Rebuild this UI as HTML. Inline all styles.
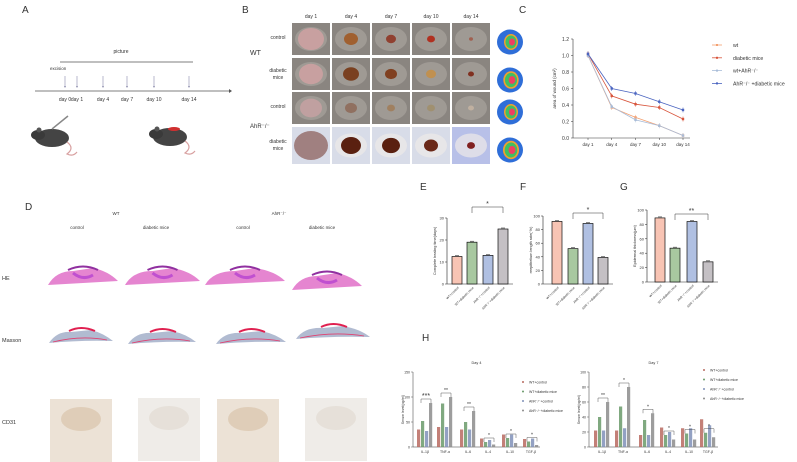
<!DOCTYPE html>
<html><head><meta charset="utf-8">
<style>
body{margin:0;background:#fff;font-family:"Liberation Sans",sans-serif;}
#root{position:relative;width:797px;height:462px;overflow:hidden;background:#fff;}
.t{position:absolute;white-space:nowrap;color:#333;}
.L{position:absolute;font-size:10px;color:#222;}
.ph{position:absolute;width:38px;height:32px;}
</style></head>
<body>
<div id="root">
<svg id="svg" width="797" height="462" style="position:absolute;left:0;top:0"></svg>
</div>
<script>
// ===== Data =====
const cDays=["day 1","day 4","day 7","day 10","day 14"];
const cYTicks=[0,0.2,0.4,0.6,0.8,1.0,1.2];
const cSeriesNames=["wt","diabetic mice","wt+AhR\u207b/\u207b","AhR\u207b/\u207b +diabetic mice"];
const cWt=[1.0,0.37,0.25,0.15,0.03];
const cDiab=[1.02,0.51,0.41,0.37,0.23];
const cWtAhr=[1.0,0.38,0.22,0.15,0.03];
const cAhrDiab=[1.02,0.60,0.54,0.44,0.34];
const barGroups=["WT+control","WT+diabetic mice","AhR\u207b/\u207b+control","AhR\u207b/\u207b+diabetic mice"];
const eValues=[12.5,19,13,25];
const eTicks=[0,10,20,30];
const fValues=[92,52,89,39];
const fTicks=[0,20,40,60,80,100];
const gValues=[89,47,84,28];
const gTicks=[0,20,40,60,80,100];
const hCytokines=["IL-1\u03b2","TNF-\u03b1","IL-6","IL-4","IL-10","TGF-\u03b2"];
const hDay4WtCtrl=[35,40,35,17,25,16];
const hDay4WtDiab=[52,87,50,10,18,11];
const hDay4AhrCtrl=[32,40,35,14,25,17];
const hDay4AhrDiab=[88,100,72,5,8,4];
const hDay4Ticks=[0,50,100,150];
const hDay4Stars=["***","**","**","*","*","*"];
const hDay7WtCtrl=[22,22,16,26,25,37];
const hDay7WtDiab=[40,54,36,16,18,19];
const hDay7AhrCtrl=[22,25,16,20,25,29];
const hDay7AhrDiab=[60,80,45,10,10,13];
const hDay7Ticks=[0,20,40,60,80,100];
const hDay7Stars=["**","*","*","*","*","*"];

const NS="http://www.w3.org/2000/svg";
const svg=document.getElementById('svg');
const root=document.getElementById('root');
function mk(tag,attrs,parent){const e=document.createElementNS(NS,tag);for(const k in attrs)e.setAttribute(k,attrs[k]);(parent||svg).appendChild(e);return e;}
function txt(x,y,s,size,anchor,parent,fill){const e=mk('text',{x:x,y:y,'font-size':size,'text-anchor':anchor||'start',fill:fill||'#333','font-family':'Liberation Sans, sans-serif'},parent);e.textContent=s;return e;}
function label(x,y,s,size,name){const d=document.createElement('div');d.className='t';d.style.left=x+'px';d.style.top=y+'px';d.style.fontSize=size+'px';d.textContent=s;


root.appendChild(d);return d;}

// Panel letters
[["A",22,5],["B",242,5],["C",519,5],["D",25,202],["E",420,182],["F",520,182],["G",620,182],["H",422,333]].forEach(p=>{
 const d=label(p[1],p[2],p[0],10,'panel-label-'+p[0].toLowerCase());
});

// ===== Panel A =====
(function(){
 const g=mk('g',{});
 
 
 mk('line',{x1:35,y1:91,x2:229,y2:91,stroke:'#555','stroke-width':0.8},g);
 mk('path',{d:'M229,89 L232,91 L229,93Z',fill:'#555'},g);
 mk('line',{x1:60,y1:62,x2:193,y2:62,stroke:'#555','stroke-width':0.7},g);
 txt(121,53,"picture",5,'middle',g);
 txt(50,70,"excision",4.5,'start',g);
 const xs=[65,77,103,127,154,189],ls=["day 0","day 1","day 4","day 7","day 10","day 14"];
 xs.forEach((x,i)=>{mk('line',{x1:x,y1:76,x2:x,y2:87,stroke:'#88a',"stroke-width":0.6},g);mk('path',{d:`M${x-1},86 L${x},88 L${x+1},86Z`,fill:'#88a'},g);txt(x,101,ls[i],5,'middle',g);});
 function mouse(x,y,red){
  mk('ellipse',{cx:x+16,cy:y+12,rx:17,ry:9,fill:'#444'},g);
  mk('ellipse',{cx:x+2,cy:y+9,rx:7,ry:5,fill:'#3a3a3a'},g);
  mk('circle',{cx:x+3,cy:y+4,r:2.5,fill:'#555'},g);
  mk('path',{d:`M${x+31},${y+16} q8,6 0,12 q6,3 10,-2`,stroke:'#d8a0a0',fill:'none','stroke-width':1.2},g);
  if(red)mk('ellipse',{cx:x+20,cy:y+4,rx:6,ry:2,fill:'#d03030'},g);
 }
 mouse(36,126,false);
 mk('line',{x1:52,y1:129,x2:68,y2:116,stroke:'#888','stroke-width':1.5},g);
 mouse(154,125,true);
})();

// ===== Panel B =====
(function(){
 const cx=[292,332,372,412,452],ry=[23,58,92,127],rh=[32,32,32,37];
 const heads=["day 1","day 4","day 7","day 10","day 14"];
 heads.forEach((h,i)=>txt(cx[i]+19,18,h,5,'middle'));
 const woundR=[[13,7,5,4,2],[12,8,6,5,3],[11,6,4,4,3],[17,10,9,7,4]];
 const woundC=[["#c8a0a0","#a06030","#904030","#b03020","#a06050"],["#c8a0a0","#7a4020","#804020","#c09050","#803020"],["#c0a0a0","#907060","#a08060","#a09070","#c0b0a0"],["#a08080","#5a2010","#5a2010","#6a2818","#802020"]];
 for(let r=0;r<4;r++)for(let c=0;c<5;c++){
  const bg=r==3?(c==4?"#b8c0e8":"#d8dce8"):"#8a8580";
  const rect=mk('rect',{x:cx[c],y:ry[r],width:38,height:rh[r],fill:bg});
  
  
  mk('ellipse',{cx:cx[c]+19,cy:ry[r]+rh[r]/2,rx:16,ry:12,fill:r==3?"#eeeae8":"#a8a29c",opacity:0.7});
  mk('ellipse',{cx:cx[c]+19,cy:ry[r]+rh[r]/2,rx:woundR[r][c],ry:woundR[r][c]*0.85,fill:woundC[r][c]});
 }
 txt(278,39,"control",5,'middle');
 txt(250,55,"WT",7,'start');
 txt(278,72,"diabetic",5,'middle');txt(278,79,"mice",5,'middle');
 txt(278,108,"control",5,'middle');
 txt(250,128,"AhR\u207b/\u207b",6,'start');
 txt(278,143,"diabetic",5,'middle');txt(278,150,"mice",5,'middle');
 const by=[42,80,112,150],sc=[1,1.1,1,1.15];
 by.forEach((y,i)=>{const x=510;
  mk('ellipse',{cx:x,cy:y,rx:13,ry:12.5,fill:'#2f6ed8'});
  mk('ellipse',{cx:x+1,cy:y,rx:7*sc[i],ry:8*sc[i],fill:'#f0a030'});
  mk('ellipse',{cx:x+1,cy:y,rx:5.5*sc[i],ry:6.5*sc[i],fill:'#40c060'});
  mk('ellipse',{cx:x+2,cy:y,rx:3*sc[i],ry:3.5*sc[i],fill:'#f04060'});
 });
})();

// ===== Panel C =====
(function(){
 const g=mk('g',{});
 
 
 const x0=588,dx=23.75,yTop=39,yBot=138,yMax=1.2;
 const X=i=>x0+i*dx, Y=v=>yBot-(v/yMax)*(yBot-yTop);
 mk('line',{x1:573,y1:yTop,x2:573,y2:yBot,stroke:'#333','stroke-width':0.6},g);
 mk('line',{x1:573,y1:yBot,x2:690,y2:yBot,stroke:'#333','stroke-width':0.6},g);
 cYTicks.forEach(t=>{mk('line',{x1:571,y1:Y(t),x2:573,y2:Y(t),stroke:'#333','stroke-width':0.5},g);txt(569,Y(t)+1.8,t.toFixed(1),5,'end',g);});
 cDays.forEach((d,i)=>{mk('line',{x1:X(i),y1:yBot,x2:X(i),y2:yBot+2,stroke:'#333','stroke-width':0.5},g);txt(X(i),yBot+8,d,4.5,'middle',g);});
 const ytl=txt(0,0,"area of wound (cm\u00b2)",4.5,'middle',g);ytl.setAttribute('transform',`translate(556,${(yTop+yBot)/2}) rotate(-90)`);
 const series=[cWt,cDiab,cWtAhr,cAhrDiab],cols=["#f4a070","#d8553c","#a8bcd8","#4a64c0"];
 series.forEach((s,k)=>{
  const p=mk('polyline',{points:s.map((v,i)=>X(i)+','+Y(v)).join(' '),fill:'none',stroke:cols[k],'stroke-width':0.8},g);
  
  
  s.forEach((v,i)=>{const m=mk('rect',{x:X(i)-1.2,y:Y(v)-1.2,width:2.4,height:2.4,fill:cols[k]},g);
   mk('line',{x1:X(i),y1:Y(v)-2.5,x2:X(i),y2:Y(v)+2.5,stroke:cols[k],'stroke-width':0.5},g);});
  const ly=45+k*12.8;
  mk('line',{x1:712,y1:ly,x2:722,y2:ly,stroke:cols[k],'stroke-width':0.8},g);
  mk('rect',{x:716,y:ly-1,width:2,height:2,fill:cols[k]},g);
  txt(733,ly+2,cSeriesNames[k],5.2,'start',g);
 });
})();

// ===== Panel D =====
(function(){
 txt(116,215,"WT",4.5,'middle');txt(279,215,"AhR\u207b/\u207b",4.5,'middle');
 [[77,"control"],[156,"diabetic mice"],[243,"control"],[322,"diabetic mice"]].forEach(a=>txt(a[0],229,a[1],4.5,'middle'));
 txt(2,280,"HE",5.5,'start');txt(2,342,"Masson",5.5,'start');txt(2,424,"CD31",5.5,'start');
 const he=[[48,118,275],[125,200,275],[205,285,275],[292,362,280]];
 he.forEach((h,i)=>{const [a,b,y]=h,m=(a+b)/2;
  const p=mk('path',{d:`M${a},${y+10} Q${a+8},${y-4} ${m-10},${y-4} L${m+10},${y-7} Q${b-10},${y-4} ${b},${y+6} Q${m},${y+8} ${a},${y+10}Z`,fill:'#e070c8',opacity:0.85});
  
  
  mk('path',{d:`M${m-15},${y-5} Q${m},${y-12} ${m+15},${y-5}`,stroke:'#9030a0',fill:'none','stroke-width':2});
  mk('path',{d:`M${m-10},${y-2} Q${m},${y+6} ${m+10},${y}`,stroke:'#c050d0',fill:'none','stroke-width':3});
 });
 const ms=[[49,113,337],[128,196,338],[216,286,338],[296,370,333]];
 ms.forEach((h,i)=>{const [a,b,y]=h,m=(a+b)/2;
  const p=mk('path',{d:`M${a},${y+6} Q${a+8},${y-6} ${m-10},${y-5} L${m+10},${y-7} Q${b-10},${y-4} ${b},${y+4} Q${m},${y+3} ${a},${y+6}Z`,fill:'#a8b4cc',opacity:0.9});
  
  
  mk('path',{d:`M${m-12},${y-6} Q${m},${y-12} ${m+14},${y-6}`,stroke:'#e02050',fill:'none','stroke-width':2});
  mk('path',{d:`M${a+4},${y+5} Q${m},${y-2} ${b-6},${y+3}`,stroke:'#e04070',fill:'none','stroke-width':0.8});
 });
 [[50,399],[138,398],[217,399],[305,398]].forEach((p,i)=>{
  const r=mk('rect',{x:p[0],y:p[1],width:62,height:63,fill:i%2?'#efece8':'#ece2d6'});
  
  
  mk('ellipse',{cx:p[0]+31,cy:p[1]+20,rx:20,ry:12,fill:i%2?'#e4ddd4':'#dcc8b0',opacity:0.8});
 });
})();

// ===== Panels E F G =====
const barCols=["#f8c4b4","#a8c8a0","#b0c0e2","#c4c0c4"];
function barChart(name,axX,y0,yTopPx,maxV,vals,ticks,centers,yTitle,star,starY){
 const g=mk('g',{});
 
 
 const Y=v=>y0-(v/maxV)*(y0-yTopPx);
 mk('line',{x1:axX,y1:Y(maxV),x2:axX,y2:y0,stroke:'#222','stroke-width':0.6},g);
 mk('line',{x1:axX,y1:y0,x2:centers[3]+10,y2:y0,stroke:'#222','stroke-width':0.6},g);
 ticks.forEach(t=>{mk('line',{x1:axX-2,y1:Y(t),x2:axX,y2:Y(t),stroke:'#222','stroke-width':0.5},g);txt(axX-3,Y(t)+1.5,String(t),4,'end',g);});
 vals.forEach((v,i)=>{
  const b=mk('rect',{x:centers[i]-5,y:Y(v),width:10,height:y0-Y(v),fill:barCols[i],stroke:'#111','stroke-width':0.7},g);
  
  
  mk('line',{x1:centers[i]-2,y1:Y(v)-1,x2:centers[i]+2,y2:Y(v)-1,stroke:'#111','stroke-width':0.5},g);
  const l=txt(0,0,barGroups[i],3.2,'end',g);l.setAttribute('transform',`translate(${centers[i]+2},${y0+4}) rotate(-45)`);
 });
 mk('path',{d:`M${centers[1]},${starY+6} L${centers[1]},${starY} L${centers[3]},${starY} L${centers[3]},${starY+6}`,fill:'none',stroke:'#333','stroke-width':0.5},g);
 txt((centers[1]+centers[3])/2,starY-1,star,7,'middle',g);
 const yt=txt(0,0,yTitle,3.8,'middle',g);yt.setAttribute('transform',`translate(${axX-11},${(y0+yTopPx)/2}) rotate(-90)`);
}
barChart('healing-time-chart',447,284,218,30,eValues,eTicks,[457,472,488,503],"Complete healing time(days)","*",207);
barChart('reepithelium-chart',543,284,216,100,fValues,fTicks,[557,573,588,603],"reepithelium length rate( %)","*",213);
barChart('epidermal-thickness-chart',647,282,210,100,gValues,gTicks,[660,675,692,708],"Epidermal thickness(\u03bcm)","**",214);

// ===== Panel H =====
const hCols=["#b86a60","#6a9a6a","#8090b8","#8c8c8c"];
function groupChart(name,title,axX,xEnd,maxV,ticks,series,stars,labelXs,legX,legY){
 const g=mk('g',{});
 
 
 const y0=447,yT=372,Y=v=>y0-(v/maxV)*(y0-yT);
 mk('line',{x1:axX,y1:yT,x2:axX,y2:y0,stroke:'#333','stroke-width':0.5},g);
 mk('line',{x1:axX,y1:y0,x2:xEnd,y2:y0,stroke:'#333','stroke-width':0.5},g);
 ticks.forEach(t=>{mk('line',{x1:axX-2,y1:Y(t),x2:axX,y2:Y(t),stroke:'#333','stroke-width':0.4},g);txt(axX-3,Y(t)+1.3,String(t),3.5,'end',g);});
 txt((axX+xEnd)/2,364,title,3.8,'middle',g);
 const yt=txt(0,0,"Serum level(pg/ml)",3.5,'middle',g);yt.setAttribute('transform',`translate(${axX-9},${(y0+yT)/2}) rotate(-90)`);
 hCytokines.forEach((c,i)=>{
  const cx=labelXs[i];
  series.forEach((s,k)=>{
   const bx=cx-8+k*4;
   const b=mk('rect',{x:bx,y:Y(s[i]),width:3.2,height:y0-Y(s[i]),fill:hCols[k],opacity:0.85},g);
   
   
  });
  txt(cx,y0+6,c,3.5,'middle',g);
  const top=Math.max(series[1][i],series[3][i]);
  const sy=Y(top)-4;
  mk('path',{d:`M${cx-4},${sy+4} L${cx-4},${sy} L${cx+6},${sy} L${cx+6},${sy+4}`,fill:'none',stroke:'#333','stroke-width':0.4},g);
  txt(cx+1,sy-1,stars[i],stars[i].length>2?7:5,'middle',g);
 });
 barGroups.forEach((n,k)=>{mk('circle',{cx:legX,cy:legY+k*9.5,r:1,fill:hCols[k]},g);txt(legX+6,legY+k*9.5+1.3,n,3.5,'start',g);});
}
groupChart('cytokine-day4-chart','Day 4',413,540,150,hDay4Ticks,[hDay4WtCtrl,hDay4WtDiab,hDay4AhrCtrl,hDay4AhrDiab],hDay4Stars,[425,445,468,488,510,531],523,382);
groupChart('cytokine-day7-chart','Day 7',589,718,100,hDay7Ticks,[hDay7WtCtrl,hDay7WtDiab,hDay7AhrCtrl,hDay7AhrDiab],hDay7Stars,[602,623,647,668,689,708],704,370);
</script>
</body></html>
